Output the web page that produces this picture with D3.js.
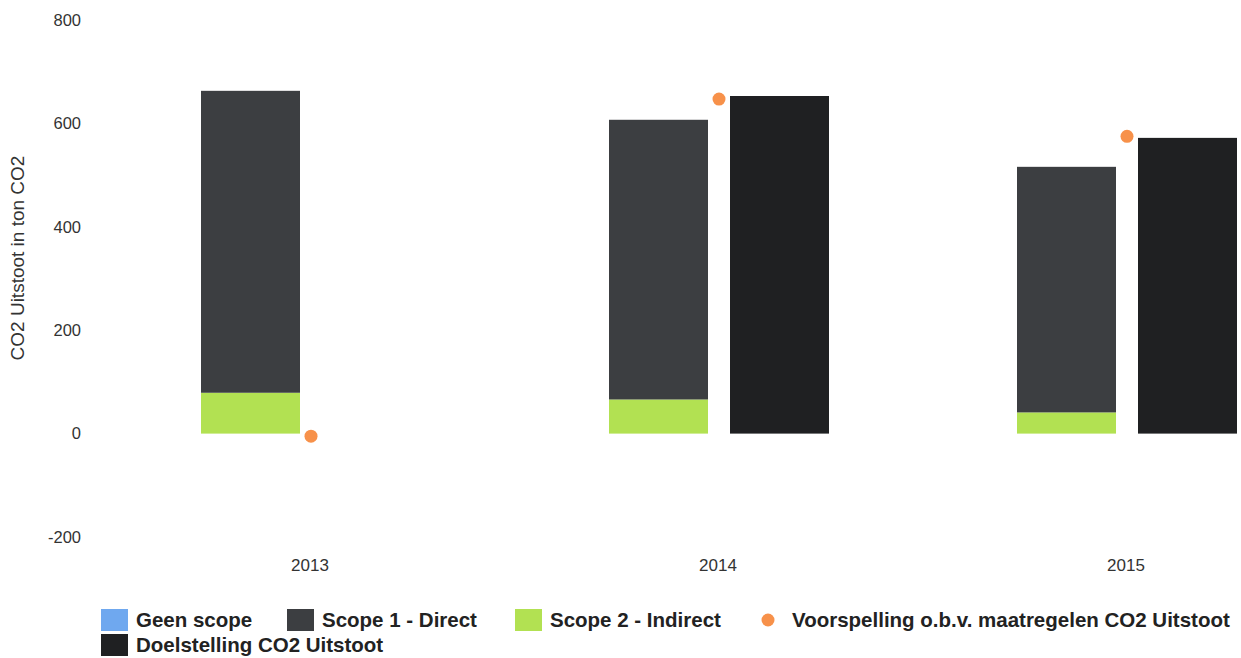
<!DOCTYPE html>
<meta charset="utf-8">
<script src="https://d3js.org/d3.v7.min.js"></script>
<style>
body { margin: 0; background: #fff; }
text { font-family: "Liberation Sans", Arial, sans-serif; }
</style>
<div id="my_dataviz"></div>
<script>

// data
var years = ["2013", "2014", "2015"];
var geenScope = [0, 0, 0];
var scope1 = [584, 541, 475];
var scope2 = [79, 66, 41];
var doelstelling = [0, 653, 572];
var voorspelling = [-5, 647, 575];
var yTicks = [-200, 0, 200, 400, 600, 800];

var legendItems = [
  {name: "Geen scope", color: "#6fa8ef", type: "rect"},
  {name: "Scope 1 - Direct", color: "#3c3e41", type: "rect"},
  {name: "Scope 2 - Indirect", color: "#b2e152", type: "rect"},
  {name: "Voorspelling o.b.v. maatregelen CO2 Uitstoot", color: "#f7914a", type: "dot"},
  {name: "Doelstelling CO2 Uitstoot", color: "#1f2022", type: "rect"}
];

var width = 1241, height = 658;

var svg = d3.select("#my_dataviz")
  .append("svg")
    .attr("width", width)
    .attr("height", height);

// scales
var x = d3.scaleBand()
  .domain(years)
  .range([107, 1331])
  .padding(0);

var sub = d3.scaleBand()
  .domain(["stack", "doel"])
  .range([-110, 110])
  .paddingInner(0.1818);

var y = d3.scaleLinear()
  .domain([-200, 800])
  .range([537, 20]);

// y axis labels
svg.append("g")
  .selectAll("text")
  .data(yTicks)
  .enter()
  .append("text")
    .attr("x", 81)
    .attr("y", function(d) { return y(d); })
    .attr("dy", "0.35em")
    .attr("text-anchor", "end")
    .style("font-size", "16.5px")
    .style("fill", "#333")
    .text(function(d) { return d; });

svg.append("text")
  .attr("transform", "translate(24,258) rotate(-90)")
  .attr("text-anchor", "middle")
  .style("font-size", "19px")
  .style("fill", "#333")
  .text("CO2 Uitstoot in ton CO2");

// x axis labels
svg.append("g")
  .selectAll("text")
  .data(years)
  .enter()
  .append("text")
    .attr("x", function(d) { return x(d) + x.bandwidth() / 2 - 1; })
    .attr("y", 565)
    .attr("dy", "0.35em")
    .attr("text-anchor", "middle")
    .style("font-size", "17px")
    .style("fill", "#333")
    .text(function(d) { return d; });

// stacked bars: scope 2 at the bottom, scope 1 on top
var rows = years.map(function(yr, i) {
  return {year: yr, geen: geenScope[i], scope2: scope2[i], scope1: scope1[i], doel: doelstelling[i], voor: voorspelling[i]};
});

var stack = d3.stack().keys(["geen", "scope2", "scope1"]);
var stacked = stack(rows);
var stackColor = {geen: "#6fa8ef", scope1: "#3c3e41", scope2: "#b2e152"};

svg.append("g")
  .selectAll("g")
  .data(stacked)
  .enter()
  .append("g")
    .style("fill", function(d) { return stackColor[d.key]; })
  .selectAll("rect")
  .data(function(d) { return d; })
  .enter()
  .append("rect")
    .attr("x", function(d) { return x(d.data.year) + x.bandwidth() / 2 + sub("stack"); })
    .attr("width", sub.bandwidth())
    .attr("y", function(d) { return y(d[1]); })
    .attr("height", function(d) { return y(d[0]) - y(d[1]); });

// doelstelling bars
svg.append("g")
  .selectAll("rect")
  .data(rows)
  .enter()
  .append("rect")
    .attr("x", function(d) { return x(d.year) + x.bandwidth() / 2 + sub("doel"); })
    .attr("width", sub.bandwidth())
    .attr("y", function(d) { return y(Math.max(0, d.doel)); })
    .attr("height", function(d) { return Math.abs(y(0) - y(d.doel)); })
    .style("fill", "#1f2022");

// voorspelling dots
svg.append("g")
  .selectAll("circle")
  .data(rows)
  .enter()
  .append("circle")
    .attr("cx", function(d) { return x(d.year) + x.bandwidth() / 2; })
    .attr("cy", function(d) { return y(d.voor); })
    .attr("r", 6.5)
    .style("fill", "#f7914a");

// legend
var legendPos = [[101, 620], [287, 620], [515, 620], [756, 620], [101, 645]];
var legend = svg.append("g");
legendItems.forEach(function(item, i) {
  var p = legendPos[i];
  if (item.type === "rect") {
    legend.append("rect")
      .attr("x", p[0]).attr("y", p[1] - 11)
      .attr("width", 27).attr("height", 22)
      .style("fill", item.color);
  } else {
    legend.append("circle")
      .attr("cx", p[0] + 12).attr("cy", p[1])
      .attr("r", 6.5)
      .style("fill", item.color);
  }
  legend.append("text")
    .attr("x", p[0] + (item.type === "rect" ? 35 : 36))
    .attr("y", p[1])
    .attr("dy", "0.35em")
    .style("font-size", "20.5px")
    .style("font-weight", "bold")
    .style("fill", "#222")
    .text(item.name);
});

</script>
